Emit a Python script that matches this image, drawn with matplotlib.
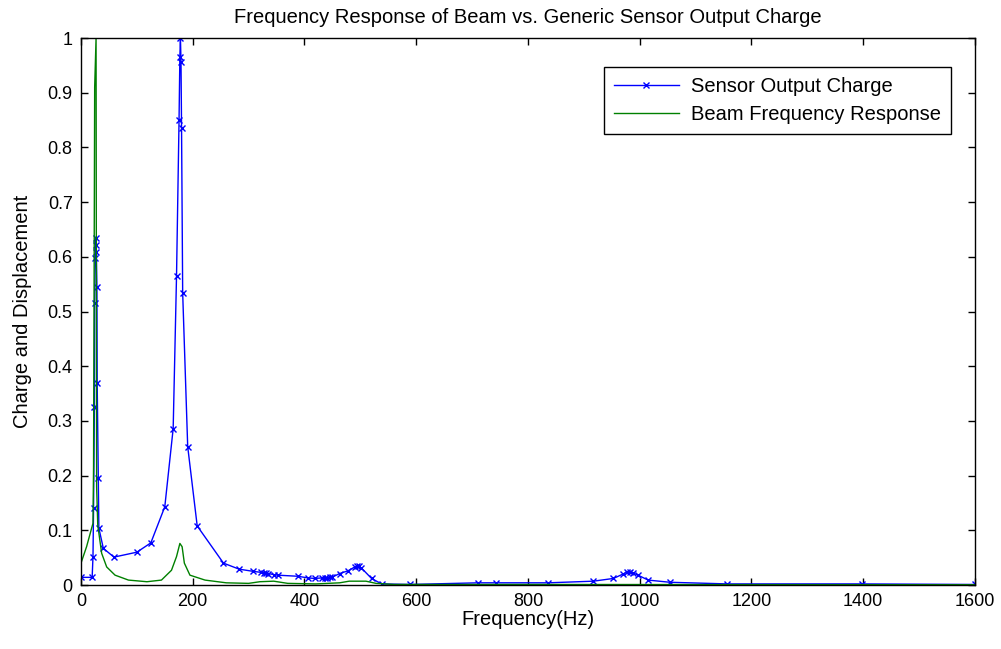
import matplotlib
matplotlib.use("Agg")
import matplotlib.pyplot as plt
import numpy as np

plt.rcParams['font.family'] = ['Liberation Sans', 'DejaVu Sans']

# Sensor Output Charge (blue, x markers)
sensor_freq = [0, 20, 21.5, 22.5, 24, 24.5, 25.5, 26, 26.5, 27, 28.5, 29, 31, 32,
               40, 59, 100, 125, 150, 165, 171, 175.5, 177, 178, 179, 180, 182,
               191, 208, 255, 283, 308, 323, 327, 331, 335, 345, 352, 388, 406,
               418, 432, 437, 441, 445, 449, 463, 478, 490, 494, 498, 502, 520,
               538, 589, 711, 743, 836, 917, 953, 970, 978, 983, 988, 997, 1015,
               1054, 1157, 1397, 1600]
sensor_val = [0.014, 0.014, 0.052, 0.14, 0.326, 0.516, 0.597, 0.608, 0.621, 0.634,
              0.545, 0.37, 0.195, 0.104, 0.067, 0.051, 0.06, 0.077, 0.143, 0.286,
              0.565, 0.85, 0.966, 1.0, 0.957, 0.835, 0.534, 0.253, 0.108, 0.04,
              0.029, 0.025, 0.023, 0.022, 0.022, 0.021, 0.019, 0.018, 0.016, 0.013,
              0.012, 0.013, 0.013, 0.013, 0.014, 0.014, 0.021, 0.026, 0.033, 0.035,
              0.034, 0.031, 0.012, 0.002, 0.001, 0.004, 0.004, 0.004, 0.007, 0.012,
              0.02, 0.024, 0.023, 0.022, 0.018, 0.009, 0.005, 0.002, 0.002, 0.001]

# Beam Frequency Response (green line)
beam_freq = [0, 10, 21.5, 22.5, 24.5, 27, 28, 30, 32, 37, 46, 61, 85, 118, 144,
             162, 171, 177, 181, 185, 195, 222, 260, 300, 320, 345, 370, 420,
             463, 480, 510, 528, 560, 800, 1600]
beam_val = [0.04, 0.07, 0.113, 0.216, 0.91, 1.0, 0.18, 0.11, 0.095, 0.058, 0.033,
            0.018, 0.009, 0.006, 0.009, 0.027, 0.052, 0.076, 0.07, 0.04, 0.018,
            0.009, 0.004, 0.003, 0.006, 0.007, 0.003, 0.002, 0.004, 0.007, 0.007,
            0.003, 0.001, 0.001, 0.0005]

x_ticks = [0, 200, 400, 600, 800, 1000, 1200, 1400, 1600]
y_ticks = [0, 0.1, 0.2, 0.3, 0.4, 0.5, 0.6, 0.7, 0.8, 0.9, 1]
y_tick_labels = ['0', '0.1', '0.2', '0.3', '0.4', '0.5', '0.6', '0.7', '0.8', '0.9', '1']

fig = plt.figure(figsize=(10.01, 6.49), dpi=100)
ax = fig.add_axes([0.0809, 0.0986, 0.8931, 0.8428])

ax.plot(sensor_freq, sensor_val, color=(0, 0, 1), marker='x', markersize=5,
        linewidth=1.0, markeredgewidth=1.0, label='Sensor Output Charge')
ax.plot(beam_freq, beam_val, color=(0, 0.5, 0), linewidth=1.0,
        label='Beam Frequency Response')

ax.set_xlim(0, 1600)
ax.set_ylim(0, 1)
ax.set_xticks(x_ticks)
ax.set_yticks(y_ticks)
ax.set_yticklabels(y_tick_labels)
ax.tick_params(direction='in', top=True, right=True, length=5, width=1,
               labelsize=13, pad=6)
for s in ax.spines.values():
    s.set_linewidth(1.0)

ax.set_title('Frequency Response of Beam vs. Generic Sensor Output Charge',
             fontsize=14.5, pad=11)
ax.set_xlabel('Frequency(Hz)', fontsize=14.5, labelpad=0)
ax.set_ylabel('Charge and Displacement', fontsize=14.5)
ax.yaxis.set_label_coords(-0.055, 0.5)

leg = ax.legend(loc='upper right', bbox_to_anchor=(0.973, 0.947), fontsize=14.5,
                frameon=True, fancybox=False, edgecolor='black', framealpha=1,
                handlelength=3.2, handletextpad=0.6, borderpad=0.5,
                labelspacing=0.45, borderaxespad=0)
leg.get_frame().set_linewidth(1.0)

fig.savefig('out.png', dpi=100)
